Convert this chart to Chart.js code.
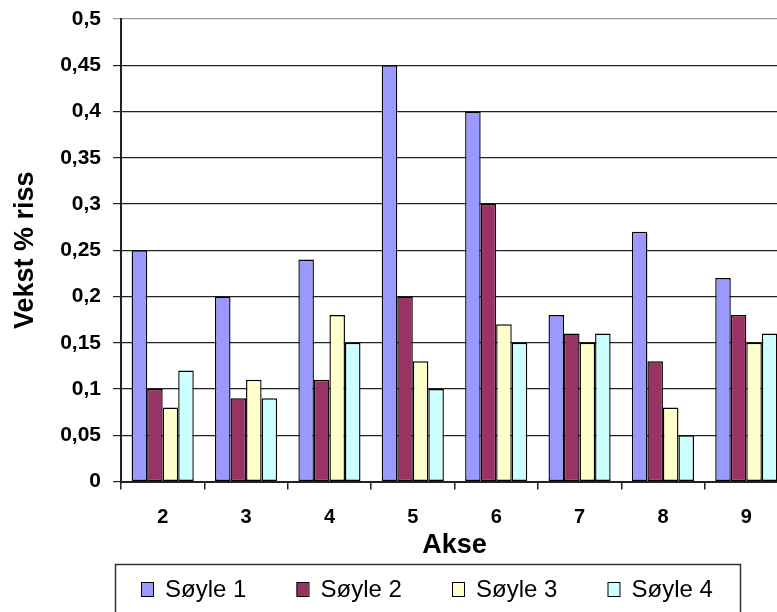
<!DOCTYPE html>
<html>
<head>
<meta charset="utf-8">
<title>Vekst % riss</title>
<script src="https://cdn.jsdelivr.net/npm/chart.js@4.4.1/dist/chart.umd.min.js"></script>
<style>
  html, body { margin: 0; padding: 0; background: #fff; overflow: hidden; }
  #chart { display: block; }
</style>
</head>
<body>
<canvas id="chart" width="800" height="612"></canvas>
<script>
const akse = ['2', '3', '4', '5', '6', '7', '8', '9'];
const soyle1 = [0.25, 0.2, 0.24, 0.45, 0.4, 0.18, 0.27, 0.22];
const soyle2 = [0.1, 0.09, 0.11, 0.2, 0.3, 0.16, 0.13, 0.18];
const soyle3 = [0.08, 0.11, 0.18, 0.13, 0.17, 0.15, 0.08, 0.15];
const soyle4 = [0.12, 0.09, 0.15, 0.1, 0.15, 0.16, 0.05, 0.16];
const seriesNames = ['Søyle 1', 'Søyle 2', 'Søyle 3', 'Søyle 4'];
const seriesColors = ['#9999ff', '#993366', '#ffffcc', '#ccffff'];

const FONT = "'Liberation Sans', Arial, sans-serif";

// legend in a framed box under the axis title
const boxLegend = {
  id: 'boxLegend',
  afterDraw(chart) {
    const ctx = chart.ctx;
    ctx.save();
    ctx.strokeStyle = '#333';
    ctx.lineWidth = 1.5;
    ctx.strokeRect(115.5, 564.5, 625, 80);

    ctx.font = '24px ' + FONT;
    ctx.textBaseline = 'middle';
    ctx.textAlign = 'left';
    chart.data.datasets.forEach((ds, i) => {
      const x = 141 + i * 155.5;
      const y = 589;
      ctx.fillStyle = ds.backgroundColor;
      ctx.fillRect(x, y - 7, 12, 14);
      ctx.strokeStyle = '#000';
      ctx.lineWidth = 1;
      ctx.strokeRect(x + 0.5, y - 6.5, 12, 14);
      ctx.fillStyle = '#000';
      ctx.fillText(ds.label, x + 24, y + 1);
    });
    ctx.restore();
  }
};

const values = [soyle1, soyle2, soyle3, soyle4];

new Chart(document.getElementById('chart'), {
  type: 'bar',
  data: {
    labels: akse,
    datasets: values.map((v, i) => ({
      label: seriesNames[i],
      data: v,
      backgroundColor: seriesColors[i],
      borderColor: '#000',
      borderWidth: 1.4,
      borderSkipped: false,
      categoryPercentage: 0.745,
      barPercentage: 1,
    })),
  },
  options: {
    responsive: false,
    devicePixelRatio: 1,
    animation: false,
    layout: { padding: { left: 0, top: 19, right: 12, bottom: 46 } },
    plugins: {
      legend: { display: false },
      tooltip: { enabled: false },
    },
    scales: {
      x: {
        offset: true,
        grid: {
          offset: true,
          drawOnChartArea: false,
          tickLength: 8,
          color: '#222',
          lineWidth: 1.5,
        },
        border: { color: '#222', width: 2 },
        ticks: {
          padding: 16,
          color: '#000',
          font: { family: FONT, size: 20, weight: 'bold' },
        },
        title: {
          display: true,
          text: 'Akse',
          color: '#000',
          padding: { top: -16, bottom: 4 },
          font: { family: FONT, size: 27, weight: 'bold' },
        },
      },
      y: {
        min: 0,
        max: 0.5,
        afterFit(scale) {
          scale.width = 121;
          // top label may overhang the plot, the outer padding covers it
          scale.paddingTop = 0;
        },
        grid: {
          tickLength: 8,
          color: ctx => (ctx.tick && ctx.tick.value >= 0.5 ? '#999' : '#222'),
          lineWidth: 1.2,
        },
        border: { color: '#222', width: 2 },
        ticks: {
          stepSize: 0.05,
          padding: 12,
          color: '#000',
          font: { family: FONT, size: 21, weight: 'bold' },
          callback: v => String(+v.toFixed(2)).replace('.', ','),
        },
        title: {
          display: true,
          text: 'Vekst % riss',
          color: '#000',
          padding: { top: 9, bottom: 0 },
          font: { family: FONT, size: 27, weight: 'bold' },
        },
      },
    },
  },
  plugins: [boxLegend],
});
</script>
</body>
</html>
